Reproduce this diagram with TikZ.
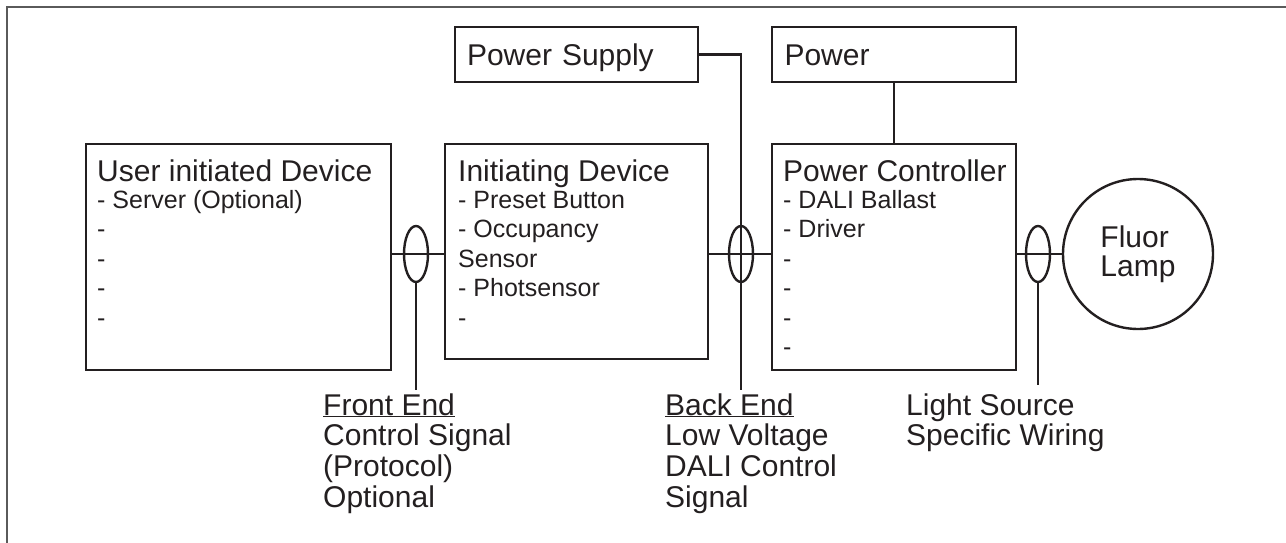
\documentclass[tikz,border=0pt]{standalone}
\usepackage{fontspec}
\setmainfont{Liberation Sans}
\usetikzlibrary{shapes.geometric}
\definecolor{ink}{HTML}{231F20}
\definecolor{framegray}{HTML}{5A5A5A}
\begin{document}
\begin{tikzpicture}[x=1pt,y=-1pt,
  box/.style={draw=ink,line width=2.4pt,rectangle,inner sep=0pt},
  topbox/.style={box,minimum width=243pt,minimum height=55pt,inner xsep=12pt,
     text width=219pt,align=left,text height=22pt,text depth=0pt,
     font=\fontsize{30}{30}\selectfont,text=ink},
  wire/.style={draw=ink,line width=2.4pt},
  loopmark/.style={ellipse,draw=ink,line width=2.4pt,minimum width=24pt,minimum height=56pt,inner sep=0pt},
  title/.style={anchor=base west,inner sep=0pt,font=\fontsize{30}{30}\selectfont,text=ink},
  items/.style={anchor=base west,inner sep=0pt,font=\fontsize{25}{29.5}\selectfont,text=ink},
  note/.style={anchor=base west,inner sep=0pt,font=\fontsize{30}{30.7}\selectfont,text=ink}]
\useasboundingbox (0,0) rectangle (1286,543);
% outer frame
\draw[framegray,line width=2pt] (7,543) -- (7,7) -- (1286,7);

% boxes
\node[box,minimum width=305pt,minimum height=226pt] (ub) at (238.5,257) {};
\node[box,minimum width=263pt,minimum height=215pt] (ib) at (576.5,251.5) {};
\node[box,minimum width=244pt,minimum height=226pt] (cb) at (894,257) {};
\node[topbox] (ps) at (576.5,54.5) {Power Supply};
\node[topbox,minimum width=244pt] (pw) at (894,54.5) {Power};

% box texts
\node[title] (ubT) at (97,181) {User initiated Device};
\node[items] (ubI) at (97,208) {\begin{tabular}[t]{@{}l@{}}- Server (Optional)\\-\\-\\-\\-\end{tabular}};
\node[title] (ibT) at (458,181) {Initiating Device};
\node[items] (ibI) at (458,208) {\begin{tabular}[t]{@{}l@{}}- Preset Button\\- Occupancy\\Sensor\\- Photsensor\\-\end{tabular}};
\node[title] (cbT) at (783,181) {Power Controller};
\node[items] (cbI) at (783,208) {\begin{tabular}[t]{@{}l@{}}- DALI Ballast\\- Driver\\-\\-\\-\\-\end{tabular}};

% lamp
\node[circle,draw=ink,line width=2.4pt,minimum size=150pt,inner sep=0pt,align=left,
      font=\fontsize{30}{29}\selectfont,text=ink] (lamp) at (1138,254) {Fluor\\Lamp};

% wiring loops
\node[loopmark] (fe) at (416,254) {};
\node[loopmark] (be) at (741,254) {};
\node[loopmark] (ls) at (1038,254) {};
\coordinate (feEnd) at (416,390);
\coordinate (beEnd) at (741,390);
\coordinate (lsEnd) at (1038,385);

% connectors
\draw[wire] (ub.east |- fe.center) -- (ib.west |- fe.center);
\draw[wire] (fe.south) -- (feEnd);
\draw[wire] (ps.east) -| (beEnd);
\draw[wire] (ib.east |- be.center) -- (cb.west |- be.center);
\draw[wire] (pw.south) -- (cb.north);
\draw[wire] (cb.east |- ls.center) -- (lamp.west);
\draw[wire] (ls.south) -- (lsEnd);

% labels
\node[note] (feL) at (323,415) {\begin{tabular}[t]{@{}l@{}}\underline{Front End}\\Control Signal\\(Protocol)\\Optional\end{tabular}};
\node[note] (beL) at (665,415) {\begin{tabular}[t]{@{}l@{}}\underline{Back End}\\Low Voltage\\DALI Control\\Signal\end{tabular}};
\node[note] (lsL) at (906,415) {\begin{tabular}[t]{@{}l@{}}Light Source\\Specific Wiring\end{tabular}};
\end{tikzpicture}
\end{document}
